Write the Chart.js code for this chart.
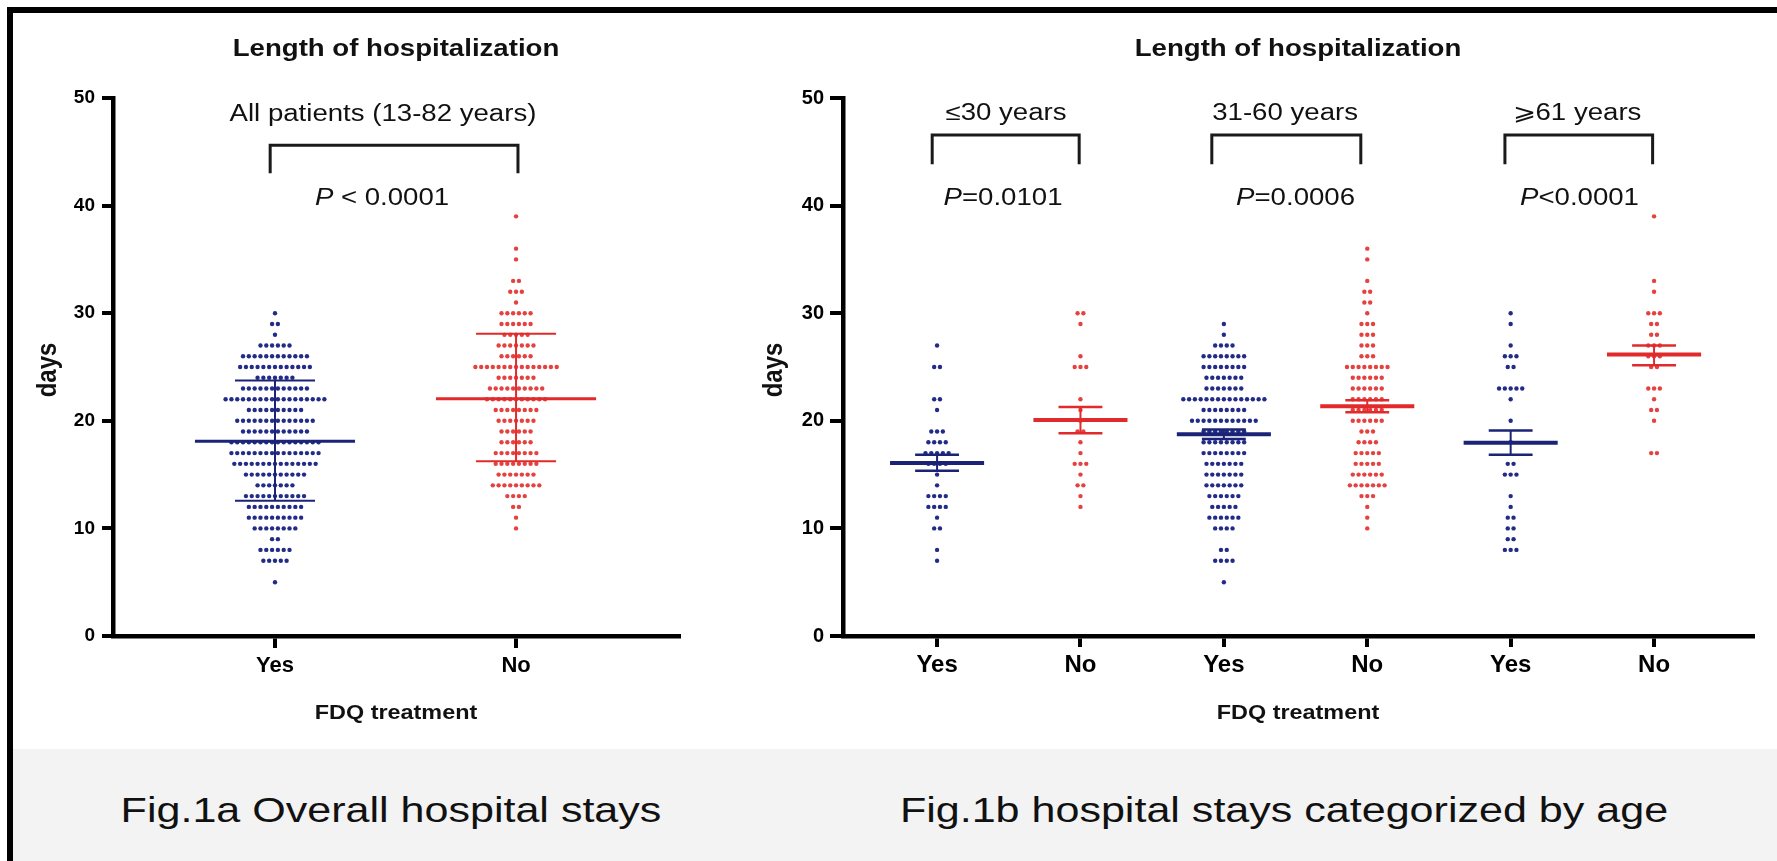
<!DOCTYPE html>
<html>
<head>
<meta charset="utf-8">
<script src="https://cdn.jsdelivr.net/npm/chart.js@4.4.1/dist/chart.umd.min.js"></script>
<style>
  html, body { margin:0; padding:0; background:#ffffff; }
  body { width:1777px; height:861px; position:relative; overflow:hidden; }
  canvas { position:absolute; top:0; }
  #chartA { left:0; }
  #chartB { left:700px; }
  #band { position:absolute; left:12px; top:749px; width:1765px; height:112px; background:#f3f3f3; }
  .cap { position:absolute; top:790px; width:900px; text-align:center; font-family:'Liberation Sans', Arial, sans-serif; font-size:35px; line-height:40px; color:#111; white-space:nowrap; transform:scaleX(1.23); }
  #capA { left:-59px; }
  #capB { left:834px; }
  #frameTop { position:absolute; left:7px; top:7px; width:1770px; height:6px; background:#000; }
  #frameLeft { position:absolute; left:7px; top:7px; width:6px; height:854px; background:#000; }
</style>
</head>
<body>
<div id="band"></div>
<canvas id="chartA" width="700" height="749"></canvas>
<canvas id="chartB" width="1077" height="749"></canvas>
<div class="cap" id="capA">Fig.1a Overall hospital stays</div>
<div class="cap" id="capB">Fig.1b hospital stays categorized by age</div>
<div id="frameTop"></div><div id="frameLeft"></div>
<script>
// ---------------- DATA ----------------
const yTickValues = [0, 10, 20, 30, 40, 50];
const panelTitle = 'Length of hospitalization';
const xAxisTitle = 'FDQ treatment';
const yAxisTitle = 'days';

// Fig 1a : all patients, [days, number of patients]
const groupsA = ['Yes', 'No'];
const allYes = [[30,1],[29,2],[28,1],[27,6],[26,12],[25,13],[24,7],[23,12],[22,18],[21,10],[20,14],[19,12],[18,16],[17,16],[16,15],[15,11],[14,7],[13,11],[12,10],[11,10],[10,8],[9,2],[8,6],[7,5],[5,1]];
const allNo  = [[39,1],[36,1],[35,1],[33,2],[32,3],[31,1],[30,6],[29,6],[28,5],[27,7],[26,6],[25,15],[24,7],[23,10],[22,11],[21,8],[20,7],[19,6],[18,6],[17,8],[16,8],[15,7],[14,9],[13,4],[12,2],[11,1],[10,1]];
const meanA  = [18.1, 22.05];
const sdLowA = [12.57, 16.23];
const sdHighA= [23.74, 28.09];
const subtitleA = 'All patients (13-82 years)';
const pValueA = ' < 0.0001';

// Fig 1b : by age group
const groupsB = ['Yes', 'No', 'Yes', 'No', 'Yes', 'No'];
const ageLabels = ['\u226430 years', '31-60 years', '\u2A7E61 years'];
const pValuesB = ['=0.0101', '=0.0006', '<0.0001'];
const age30Yes = [[27,1],[25,2],[22,2],[21,1],[19,3],[18,4],[17,5],[16,4],[15,1],[14,1],[13,4],[12,4],[11,1],[10,2],[8,1],[7,1]];
const age30No  = [[30,2],[29,1],[26,1],[25,3],[22,1],[21,1],[20,1],[19,2],[18,1],[17,1],[16,3],[15,1],[14,2],[13,1],[12,1]];
const age3160Yes = [[29,1],[28,1],[27,4],[26,8],[25,8],[24,7],[23,7],[22,15],[21,8],[20,12],[19,8],[18,8],[17,8],[16,7],[15,7],[14,7],[13,6],[12,5],[11,6],[10,4],[8,2],[7,4],[5,1]];
const age3160No  = [[36,1],[35,1],[33,1],[32,2],[31,2],[30,1],[29,3],[28,3],[27,3],[26,3],[25,8],[24,6],[23,6],[22,6],[21,6],[20,6],[19,3],[18,4],[17,5],[16,5],[15,6],[14,7],[13,3],[12,1],[11,1],[10,1]];
const age61Yes = [[30,1],[29,1],[27,1],[26,3],[25,2],[23,5],[22,1],[20,1],[18,1],[16,2],[15,3],[13,1],[12,1],[11,2],[10,2],[9,2],[8,3]];
const age61No  = [[39,1],[33,1],[32,1],[30,3],[29,2],[28,2],[27,3],[26,3],[25,2],[23,3],[22,1],[21,2],[20,1],[17,2]];
const meanB    = [16.08, 20.08, 18.75, 21.35, 17.97, 26.16];
const semLowB  = [15.36, 18.84, 18.3, 20.8, 16.85, 25.17];
const semHighB = [16.85, 21.29, 19.18, 21.9, 19.09, 27.0];

// ---------------- STYLE ----------------
const FONT = "'Liberation Sans', Arial, Helvetica, sans-serif";
const BLUE_DOT = '#222b86', RED_DOT = '#e5423f';
const BLUE_LINE = '#1b2377', RED_LINE = '#e02a2b';
const INK = '#111';

function swarm(counts, center, pitch) {
  const pts = [];
  counts.forEach(([d, n]) => {
    for (let k = 0; k < n; k++) pts.push({ x: center + (k - (n - 1) / 2) * pitch, y: d });
  });
  return pts;
}

function sText(ctx, str, x, y, size, weight, sx) {
  ctx.save();
  ctx.font = `normal ${weight} ${size}px ${FONT}`;
  ctx.textAlign = 'center'; ctx.textBaseline = 'alphabetic'; ctx.fillStyle = INK;
  ctx.translate(x, y); ctx.scale(sx, 1); ctx.fillText(str, 0, 0);
  ctx.restore();
}
function pText(ctx, rest, x, y, size, sx) {
  ctx.save();
  const fI = `italic 400 ${size}px ${FONT}`, fN = `normal 400 ${size}px ${FONT}`;
  ctx.font = fI; const wP = ctx.measureText('P').width;
  ctx.font = fN; const wR = ctx.measureText(rest).width;
  const t = wP + wR;
  ctx.translate(x, y); ctx.scale(sx, 1);
  ctx.textAlign = 'left'; ctx.textBaseline = 'alphabetic'; ctx.fillStyle = INK;
  ctx.font = fI; ctx.fillText('P', -t / 2, 0);
  ctx.font = fN; ctx.fillText(rest, -t / 2 + wP, 0);
  ctx.restore();
}
function vText(ctx, str, x, y, size) {
  ctx.save();
  ctx.font = `normal 700 ${size}px ${FONT}`;
  ctx.textAlign = 'center'; ctx.textBaseline = 'middle'; ctx.fillStyle = INK;
  ctx.translate(x, y); ctx.rotate(-Math.PI / 2); ctx.scale(1, 1.15); ctx.fillText(str, 0, 0);
  ctx.restore();
}
function seg(ctx, x1, y1, x2, y2) { ctx.beginPath(); ctx.moveTo(x1, y1); ctx.lineTo(x2, y2); ctx.stroke(); }
function bracket(ctx, x1, x2, yt, yb) {
  ctx.save(); ctx.strokeStyle = '#1a1a1a'; ctx.lineWidth = 3; ctx.lineJoin = 'miter';
  ctx.beginPath(); ctx.moveTo(x1, yb); ctx.lineTo(x1, yt); ctx.lineTo(x2, yt); ctx.lineTo(x2, yb); ctx.stroke();
  ctx.restore();
}

function scalesCfg(o) {
  const gridCfg = (tl) => ({ display: true, drawOnChartArea: false, drawTicks: true, tickLength: tl, tickWidth: 4, lineWidth: 4, color: '#000' });
  return {
    x: {
      type: 'linear', min: o.xmin, max: o.xmax,
      afterBuildTicks: s => { s.ticks = o.labels.map((_, i) => ({ value: i })); },
      afterFit: s => { s.height = o.xAxisHeight; },
      grid: gridCfg(o.xTick),
      border: { display: true, width: 4.5, color: '#000' },
      ticks: { callback: v => o.labels[v], autoSkip: false, maxRotation: 0, minRotation: 0, padding: o.xPad, color: '#000', font: { family: FONT, size: o.xFont, weight: 'bold' } }
    },
    y: {
      type: 'linear', min: 0, max: 50,
      afterBuildTicks: s => { s.ticks = yTickValues.map(v => ({ value: v })); },
      afterFit: s => { s.width = o.yAxisWidth; },
      grid: gridCfg(o.yTick),
      border: { display: true, width: 4.5, color: '#000' },
      ticks: { padding: o.yPad, color: '#000', font: { family: FONT, size: o.yFont, weight: 'bold' } }
    }
  };
}
function dotDataset(pts, color) {
  return { data: pts, backgroundColor: color, borderWidth: 0, pointRadius: 2.2, pointHoverRadius: 2.2 };
}

// ---------------- CHART A ----------------
const pitchA = 0.0241;
const summaryA = {
  id: 'summaryA',
  afterDatasetsDraw(chart) {
    const { ctx, scales: { x, y } } = chart;
    groupsA.forEach((_, i) => {
      ctx.save();
      ctx.strokeStyle = i === 0 ? BLUE_LINE : RED_LINE;
      ctx.lineWidth = 2;
      seg(ctx, x.getPixelForValue(i), y.getPixelForValue(sdLowA[i]), x.getPixelForValue(i), y.getPixelForValue(sdHighA[i]));
      [sdLowA[i], sdHighA[i]].forEach(v => seg(ctx, x.getPixelForValue(i - 0.166), y.getPixelForValue(v), x.getPixelForValue(i + 0.166), y.getPixelForValue(v)));
      ctx.lineWidth = 3;
      seg(ctx, x.getPixelForValue(i - 0.332), y.getPixelForValue(meanA[i]), x.getPixelForValue(i + 0.332), y.getPixelForValue(meanA[i]));
      ctx.restore();
    });
  },
  afterDraw(chart) {
    const { ctx, chartArea: ca, scales: { x, y } } = chart;
    const cx = (ca.left + ca.right) / 2;
    sText(ctx, panelTitle, cx, 56, 23, 700, 1.2);
    sText(ctx, subtitleA, x.getPixelForValue(0.448), 121, 23, 400, 1.2);
    bracket(ctx, x.getPixelForValue(-0.02), x.getPixelForValue(1.008), y.getPixelForValue(45.6), y.getPixelForValue(43.0));
    pText(ctx, pValueA, x.getPixelForValue(0.444), 205, 23, 1.2);
    vText(ctx, yAxisTitle, 48, 370, 24);
    sText(ctx, xAxisTitle, cx, 719, 19.5, 700, 1.2);
  }
};
new Chart(document.getElementById('chartA'), {
  type: 'scatter',
  data: { datasets: [dotDataset(swarm(allYes, 0, pitchA), BLUE_DOT), dotDataset(swarm(allNo, 1, pitchA), RED_DOT)] },
  options: {
    responsive: false, animation: false, events: [],
    layout: { padding: { left: 0, right: 21, top: 98, bottom: 0 } },
    plugins: { legend: { display: false }, tooltip: { enabled: false } },
    scales: scalesCfg({ xmin: -0.672, xmax: 1.676, labels: groupsA, xAxisHeight: 113, yAxisWidth: 113, xTick: 12, yTick: 11, xPad: 5, yPad: 7, xFont: 22, yFont: 19 })
  },
  plugins: [summaryA]
});

// ---------------- CHART B ----------------
const pitchB = 0.0404;
const groupsBData = [age30Yes, age30No, age3160Yes, age3160No, age61Yes, age61No];
const subX = [0.481, 2.427, 4.463];
const pX = [0.46, 2.50, 4.48];
const brX = [[-0.034, 0.991], [1.916, 2.955], [3.96, 4.99]];
const summaryB = {
  id: 'summaryB',
  afterDatasetsDraw(chart) {
    const { ctx, scales: { x, y } } = chart;
    groupsB.forEach((g, i) => {
      ctx.save();
      ctx.strokeStyle = g === 'Yes' ? BLUE_LINE : RED_LINE;
      ctx.lineWidth = 2;
      seg(ctx, x.getPixelForValue(i), y.getPixelForValue(semLowB[i]), x.getPixelForValue(i), y.getPixelForValue(semHighB[i]));
      ctx.lineWidth = 2.5;
      [semLowB[i], semHighB[i]].forEach(v => seg(ctx, x.getPixelForValue(i - 0.153), y.getPixelForValue(v), x.getPixelForValue(i + 0.153), y.getPixelForValue(v)));
      ctx.lineWidth = 4;
      seg(ctx, x.getPixelForValue(i - 0.328), y.getPixelForValue(meanB[i]), x.getPixelForValue(i + 0.328), y.getPixelForValue(meanB[i]));
      ctx.restore();
    });
  },
  afterDraw(chart) {
    const { ctx, chartArea: ca, scales: { x, y } } = chart;
    const cx = (ca.left + ca.right) / 2;
    sText(ctx, panelTitle, cx, 56, 23, 700, 1.2);
    ageLabels.forEach((t, k) => {
      sText(ctx, t, x.getPixelForValue(subX[k]), 120, 23, 400, 1.2);
      bracket(ctx, x.getPixelForValue(brX[k][0]), x.getPixelForValue(brX[k][1]), y.getPixelForValue(46.55), y.getPixelForValue(43.85));
      pText(ctx, pValuesB[k], x.getPixelForValue(pX[k]), 205, 23, 1.2);
    });
    vText(ctx, yAxisTitle, 74, 370, 24);
    sText(ctx, xAxisTitle, cx, 719, 19.5, 700, 1.2);
  }
};
new Chart(document.getElementById('chartB'), {
  type: 'scatter',
  data: { datasets: groupsBData.map((d, i) => dotDataset(swarm(d, i, pitchB), groupsB[i] === 'Yes' ? BLUE_DOT : RED_DOT)) },
  options: {
    responsive: false, animation: false, events: [],
    layout: { padding: { left: 0, right: 24, top: 98, bottom: 0 } },
    plugins: { legend: { display: false }, tooltip: { enabled: false } },
    scales: scalesCfg({ xmin: -0.656, xmax: 5.69, labels: groupsB, xAxisHeight: 113, yAxisWidth: 143, xTick: 11, yTick: 13, xPad: 4, yPad: 6, xFont: 24, yFont: 20 })
  },
  plugins: [summaryB]
});
</script>
</body>
</html>
